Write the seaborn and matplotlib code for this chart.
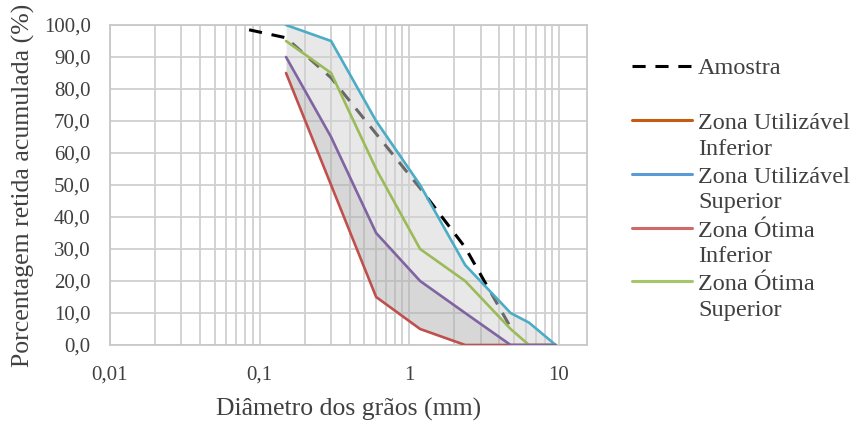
import numpy as np
import pandas as pd
import matplotlib
matplotlib.use("Agg")
import matplotlib.pyplot as plt
import seaborn as sns
from matplotlib.lines import Line2D
from matplotlib.ticker import FixedLocator, FixedFormatter, LogLocator, NullFormatter

# ---------------- data ----------------
peneiras = [0.15, 0.3, 0.6, 1.18, 2.36, 4.75, 6.3, 9.5]          # mm
util_inf = [85, 50, 15, 5, 0, 0, 0, 0]                              # Zona Utilizável Inferior
util_sup = [100, 95, 70, 50, 25, 10, 7, 0]                          # Zona Utilizável Superior
otima_inf = [90, 65, 35, 20, 10, 0, 0, 0]                           # Zona Ótima Inferior
otima_sup = [95, 85, 55, 30, 20, 5, 0, 0]                           # Zona Ótima Superior

amostra_d = [0.085, 0.15, 0.3, 0.6, 1.18, 2.36, 4.75]
amostra_v = [98.5, 96.0, 83.5, 66.0, 49.0, 30.5, 5.5]

x_ticks = [0.01, 0.1, 1, 10]
x_tick_labels = ["0,01", "0,1", "1", "10"]
y_ticks = [0, 10, 20, 30, 40, 50, 60, 70, 80, 90, 100]
y_tick_labels = ["0,0", "10,0", "20,0", "30,0", "40,0", "50,0",
                 "60,0", "70,0", "80,0", "90,0", "100,0"]

legend_labels = ["Amostra", "Zona Utilizável\nInferior", "Zona Utilizável\nSuperior",
                 "Zona Ótima\nInferior", "Zona Ótima\nSuperior"]

# ---------------- style ----------------
sns.set_theme(style="white")
plt.rcParams["font.family"] = ["Liberation Serif", "DejaVu Serif"]
plt.rcParams["text.color"] = "#404040"
plt.rcParams["axes.labelcolor"] = "#404040"
plt.rcParams["xtick.color"] = "#404040"
plt.rcParams["ytick.color"] = "#404040"

fig = plt.figure(figsize=(8.61, 4.25), dpi=100)
ax = fig.add_axes([110 / 861, 1 - 345 / 425, (587 - 110) / 861, (345 - 25) / 425])
ax.set_xscale("log")

df_zonas = pd.DataFrame({"d": peneiras, "ui": util_inf, "us": util_sup,
                         "oi": otima_inf, "os": otima_sup})
df_am = pd.DataFrame({"d": amostra_d, "v": amostra_v})

# sample curve (behind the shaded zones)
sns.lineplot(data=df_am, x="d", y="v", ax=ax, color="black", lw=2.2,
             linestyle=(0, (4.3, 3.2)), sort=False, zorder=2, legend=False)

# shaded zones
ax.fill_between(df_zonas["d"], df_zonas["ui"], df_zonas["oi"], color="#b0b0b0",
                alpha=0.5, lw=0, zorder=3)
ax.fill_between(df_zonas["d"], df_zonas["oi"], df_zonas["us"], color="#d2d2d2",
                alpha=0.5, lw=0, zorder=3)

# zone limit curves
line_cols = {"ui": "#c0504d", "us": "#4bacc6", "os": "#9bbb59", "oi": "#8064a2"}
for key in ["ui", "us", "os", "oi"]:
    sns.lineplot(data=df_zonas, x="d", y=key, ax=ax, color=line_cols[key], lw=1.9,
                 sort=False, zorder=4, legend=False)

ax.set_xlim(0.01, 10 ** 1.187)
ax.set_ylim(0, 100)
ax.xaxis.set_major_locator(FixedLocator(x_ticks))
ax.xaxis.set_major_formatter(FixedFormatter(x_tick_labels))
ax.xaxis.set_minor_locator(LogLocator(base=10, subs=np.arange(2, 10)))
ax.xaxis.set_minor_formatter(NullFormatter())
ax.yaxis.set_major_locator(FixedLocator(y_ticks))
ax.yaxis.set_major_formatter(FixedFormatter(y_tick_labels))

ax.grid(which="both", axis="x", color="#d0d0d0", lw=1.3, zorder=0)
ax.grid(which="major", axis="y", color="#d0d0d0", lw=1.3, zorder=0)
ax.set_axisbelow(True)
for s in ax.spines.values():
    s.set_color("#c8c8c8")
    s.set_linewidth(1.3)
ax.tick_params(which="both", length=0, labelsize=15)
ax.tick_params(axis="y", pad=14)
ax.tick_params(axis="x", pad=15)

ax.set_xlabel("Diâmetro dos grãos (mm)", fontsize=18.5)
ax.set_ylabel("Porcentagem retida acumulada (%)", fontsize=18.5)
ax.xaxis.set_label_coords(0.5, (345 - 398) / 320)
ax.yaxis.set_label_coords((35 - 110) / 477, 0.5)

# ---------------- legend ----------------
fs_leg = 17.5
h_am = [Line2D([], [], color="black", lw=2.2, linestyle=(0, (4.3, 3.2)))]
leg1 = ax.legend(h_am, legend_labels[:1], loc="center left",
                 bbox_to_anchor=(632 / 861, 1 - 68 / 425), bbox_transform=fig.transFigure,
                 frameon=False, fontsize=fs_leg, handlelength=2.47, handletextpad=0.25,
                 borderpad=0, borderaxespad=0)
ax.add_artist(leg1)

leg_cols = ["#c55a11", "#5b9bd5", "#d06a6a", "#a6c66a"]
h_z = [Line2D([], [], color=c, lw=2.2) for c in leg_cols]
leg2 = ax.legend(h_z, legend_labels[1:], loc="center left",
                 bbox_to_anchor=(632 / 861, 1 - 217 / 425), bbox_transform=fig.transFigure,
                 frameon=False, fontsize=fs_leg, handlelength=2.47, handletextpad=0.25,
                 borderpad=0, borderaxespad=0, labelspacing=0.3)
for t in leg2.get_texts():
    t.set_linespacing(1.28)
for ln in leg2.get_lines():
    ln.set_ydata(np.asarray(ln.get_ydata()) + 0.5 * fs_leg * 1.02 + 2.5)

fig.savefig("out.png", dpi=100)
